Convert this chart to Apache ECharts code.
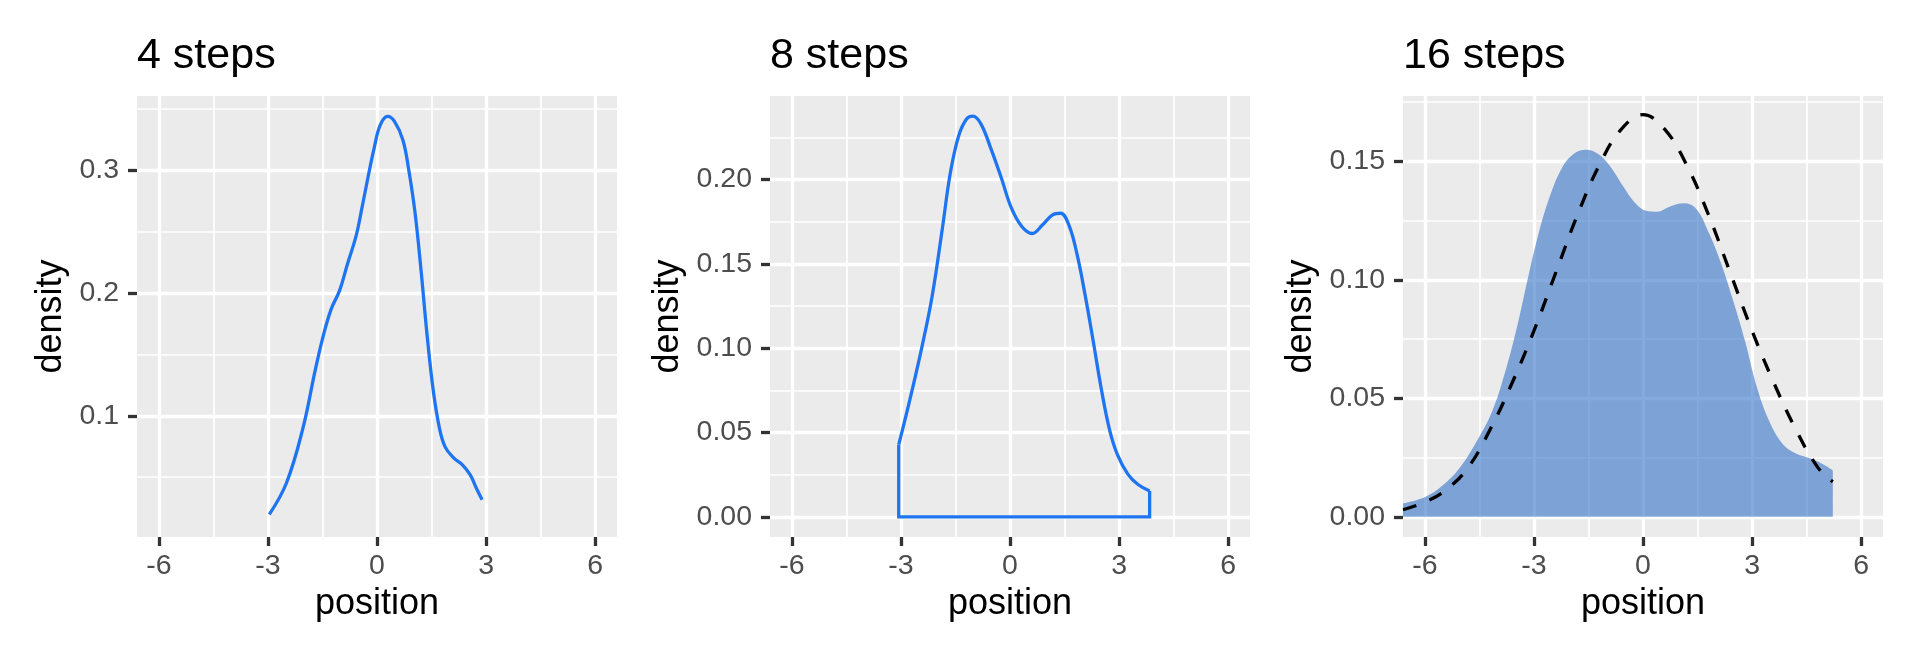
<!DOCTYPE html>
<html><head><meta charset="utf-8">
<script src="https://cdn.jsdelivr.net/npm/echarts@6/dist/echarts.min.js"></script>
<style>html,body{margin:0;padding:0;background:#fff}#c{width:1920px;height:660px}</style>
</head><body><div id="c"></div>
<script>
// ---- titles & axes ----
const panelTitles = ['4 steps', '8 steps', '16 steps'];
const xTicks = [-6, -3, 0, 3, 6];
const xTickLabels = ['-6', '-3', '0', '3', '6'];
const xMinor = [-4.5, -1.5, 1.5, 4.5];
const xRange = [-6.6, 6.6];

const yTicks4 = [0.1, 0.2, 0.3];
const yTickLabels4 = ['0.1', '0.2', '0.3'];
const yMinor4 = [0.05, 0.15, 0.25, 0.35];
const yRange4 = [0.0013, 0.3606];

const yTicks8 = [0, 0.05, 0.10, 0.15, 0.20];
const yTickLabels8 = ['0.00', '0.05', '0.10', '0.15', '0.20'];
const yMinor8 = [0.025, 0.075, 0.125, 0.175, 0.225];
const yRange8 = [-0.0119, 0.2495];

const yTicks16 = [0, 0.05, 0.10, 0.15];
const yTickLabels16 = ['0.00', '0.05', '0.10', '0.15'];
const yMinor16 = [0.025, 0.075, 0.125, 0.175];
const yRange16 = [-0.0085, 0.1776];

// ---- data ----
// 4 steps density
const pos4 = [-2.96, -2.49, -2.04, -1.70, -1.48, -1.26, -1.03, -0.81, -0.58, -0.41, -0.25, -0.08, 0.09, 0.29, 0.48, 0.71, 0.87, 1.04, 1.21, 1.38, 1.55, 1.72, 1.88, 2.11, 2.33, 2.56, 2.72, 2.89];
const dens4 = [0.0198, 0.0453, 0.0896, 0.137, 0.165, 0.187, 0.202, 0.224, 0.246, 0.270, 0.294, 0.318, 0.337, 0.344, 0.340, 0.325, 0.301, 0.267, 0.219, 0.165, 0.120, 0.0896, 0.0743, 0.0658, 0.0606, 0.0521, 0.0419, 0.0317];

// 8 steps density (outline)
const pos8 = [-3.06, -2.76, -2.42, -2.14, -1.86, -1.64, -1.41, -1.19, -1.02, -0.80, -0.52, -0.24, 0.04, 0.33, 0.61, 0.89, 1.17, 1.39, 1.62, 1.84, 2.07, 2.29, 2.51, 2.74, 2.96, 3.24, 3.52, 3.84];
const dens8 = [0.0428, 0.0689, 0.101, 0.131, 0.171, 0.204, 0.226, 0.236, 0.2376, 0.233, 0.218, 0.201, 0.183, 0.172, 0.168, 0.173, 0.179, 0.180, 0.173, 0.156, 0.131, 0.104, 0.076, 0.0515, 0.0366, 0.0254, 0.0192, 0.0154];

// 16 steps density (filled)
const pos16 = [-6.6, -5.99, -5.50, -5.05, -4.60, -4.15, -3.82, -3.48, -3.14, -2.86, -2.58, -2.24, -1.91, -1.57, -1.23, -0.90, -0.56, -0.22, 0.11, 0.39, 0.73, 1.12, 1.46, 1.80, 2.13, 2.47, 2.81, 3.14, 3.48, 3.82, 4.15, 4.55, 4.94, 5.22];
const dens16 = [0.0057, 0.0084, 0.0134, 0.0205, 0.0312, 0.0445, 0.0596, 0.0792, 0.1024, 0.1202, 0.1344, 0.1469, 0.1531, 0.1549, 0.1531, 0.1478, 0.1398, 0.1326, 0.1291, 0.1288, 0.1309, 0.1323, 0.1300, 0.1202, 0.1077, 0.0917, 0.0739, 0.0543, 0.0401, 0.0312, 0.0272, 0.0249, 0.0223, 0.0196];

// 16 steps reference curve (dashed)
const posRef = [-6.6, -6.0, -5.4, -4.8, -4.2, -3.6, -3.0, -2.4, -1.8, -1.2, -0.6, 0, 0.6, 1.2, 1.8, 2.4, 3.0, 3.6, 4.2, 4.8, 5.22];
const densRef = [0.0030, 0.0062, 0.0116, 0.0210, 0.0370, 0.0565, 0.0785, 0.1030, 0.1275, 0.1485, 0.1635, 0.1697, 0.1635, 0.1485, 0.1275, 0.1030, 0.0785, 0.0565, 0.0370, 0.0210, 0.0148];

const zip = (a, b) => a.map((v, i) => [v, b[i]]);

// ---- layout/style ----
const FONT = '"Liberation Sans", Arial, Helvetica, sans-serif';
const gridLefts = [137, 770, 1403];
const GRID_TOP = 96, GRID_W = 480, GRID_H = 441;
const BLUE = '#1F74F0';
const MAJOR_W = 3.3, MINOR_W = 1.7;

const grids = gridLefts.map(l => ({
  left: l, top: GRID_TOP, width: GRID_W, height: GRID_H,
  show: true, backgroundColor: '#EBEBEB', borderWidth: 0, containLabel: false, outerBoundsMode: 'none'
}));

function majorAxis(gi, range, ticks, labels, isX, nameGap) {
  return {
    type: 'value', gridIndex: gi, min: range[0], max: range[1],
    position: isX ? 'bottom' : 'left',
    name: isX ? 'position' : 'density', nameLocation: 'middle', nameGap: nameGap,
    nameMoveOverlap: false,
    nameTextStyle: { fontFamily: FONT, fontSize: 36, color: '#000000' },
    axisLine: { show: false, onZero: false },
    axisTick: { show: true, customValues: ticks, length: 9, inside: false, lineStyle: { color: '#333333', width: 3.3 } },
    axisLabel: {
      show: true, customValues: ticks, margin: isX ? 15 : 18,
      fontFamily: FONT, fontSize: 28.5, color: '#4D4D4D',
      showMinLabel: true, showMaxLabel: true, hideOverlap: false,
      formatter: v => { const i = ticks.findIndex(t => Math.abs(t - v) < 1e-9); return i >= 0 ? labels[i] : ''; }
    },
    splitLine: { show: true, showMinLine: true, showMaxLine: true, lineStyle: { color: '#FFFFFF', width: MAJOR_W } },
    minorSplitLine: { show: false },
    z: 2
  };
}
function minorAxis(gi, range, minors, isX) {
  return {
    type: 'value', gridIndex: gi, min: range[0], max: range[1],
    position: isX ? 'bottom' : 'left',
    axisLine: { show: false, onZero: false },
    axisTick: { show: false, customValues: minors },
    axisLabel: { show: false, customValues: minors },
    splitLine: { show: true, showMinLine: true, showMaxLine: true, lineStyle: { color: '#FFFFFF', width: MINOR_W } },
    z: 1
  };
}

const xAxis = [], yAxis = [];
const yConf = [
  [yRange4, yTicks4, yTickLabels4, yMinor4, 68],
  [yRange8, yTicks8, yTickLabels8, yMinor8, 84],
  [yRange16, yTicks16, yTickLabels16, yMinor16, 84]
];
for (let g = 0; g < 3; g++) {
  xAxis.push(majorAxis(g, xRange, xTicks, xTickLabels, true, 49));
  xAxis.push(minorAxis(g, xRange, xMinor, true));
  const c = yConf[g];
  yAxis.push(majorAxis(g, c[0], c[1], c[2], false, c[4]));
  yAxis.push(minorAxis(g, c[0], c[3], false));
}

const titleStyle = { fontFamily: FONT, fontSize: 43, fontWeight: 'normal', color: '#000000' };
const title = panelTitles.map((t, i) => ({ text: t, left: gridLefts[i], top: 35, padding: 0, textStyle: titleStyle }));

const series = [
  {
    type: 'line', xAxisIndex: 0, yAxisIndex: 0, data: zip(pos4, dens4),
    smooth: 0.4, showSymbol: false, symbol: 'none',
    lineStyle: { color: BLUE, width: 3.3 }, z: 3
  },
  {
    type: 'line', xAxisIndex: 2, yAxisIndex: 2, data: zip(pos8, dens8),
    smooth: 0.4, showSymbol: false, symbol: 'none',
    lineStyle: { color: BLUE, width: 3.3 }, z: 3
  },
  {
    type: 'line', xAxisIndex: 2, yAxisIndex: 2,
    data: [[pos8[0], dens8[0]], [pos8[0], 0], [pos8[pos8.length - 1], 0], [pos8[pos8.length - 1], dens8[dens8.length - 1]]],
    smooth: false, showSymbol: false, symbol: 'none',
    lineStyle: { color: BLUE, width: 3.3, join: 'miter' }, z: 3
  },
  {
    type: 'line', xAxisIndex: 4, yAxisIndex: 4, data: zip(pos16, dens16),
    smooth: 0.4, showSymbol: false, symbol: 'none',
    lineStyle: { width: 0, opacity: 0 },
    areaStyle: { color: '#3471C8', opacity: 0.6, origin: 'auto' }, z: 3
  },
  {
    type: 'line', xAxisIndex: 4, yAxisIndex: 4, data: zip(posRef, densRef),
    smooth: 0.4, showSymbol: false, symbol: 'none',
    lineStyle: { color: '#000000', width: 3.3, type: [14, 14] }, z: 4
  }
];

const chart = echarts.init(document.getElementById('c'), null, { renderer: 'canvas', width: 1920, height: 660 });
chart.setOption({
  animation: false,
  backgroundColor: '#FFFFFF',
  title, grid: grids, xAxis, yAxis, series
});
</script></body></html>
